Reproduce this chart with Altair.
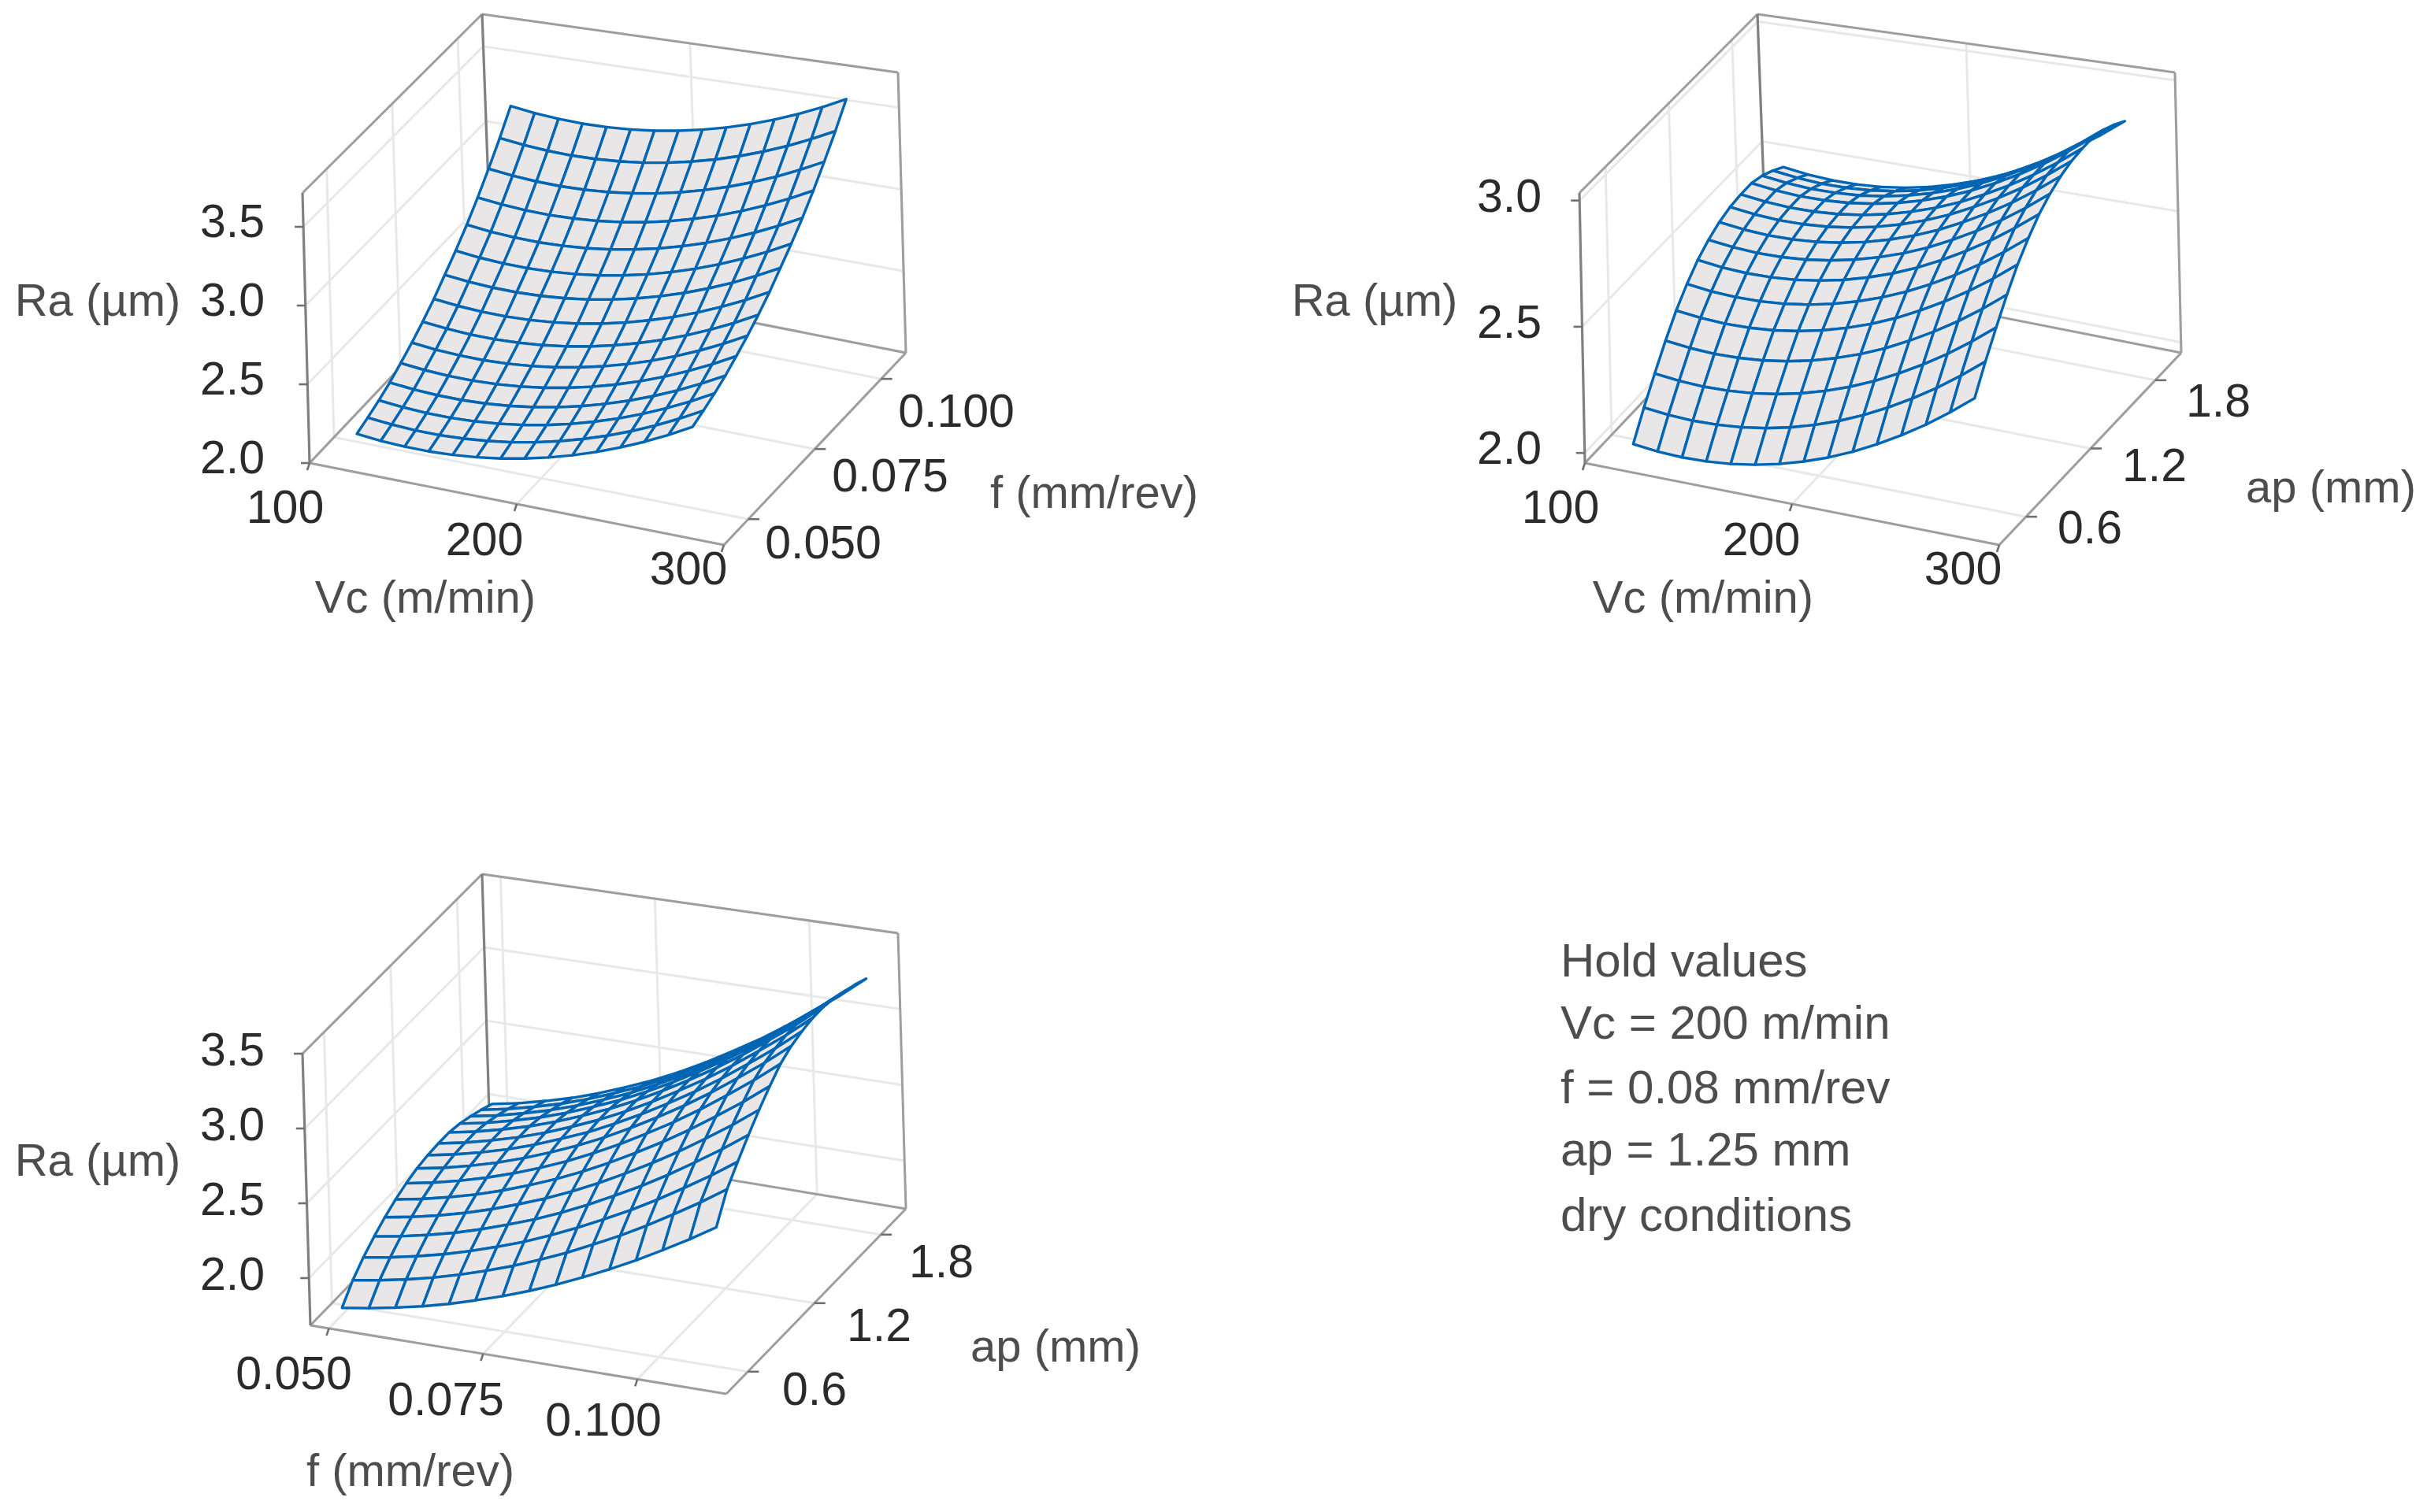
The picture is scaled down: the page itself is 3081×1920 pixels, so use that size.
import altair as alt
import pandas as pd
import numpy as np

# ---------- values ----------
# Surface 1: Ra (um) over Vc (columns) and f (rows, near to far)
VC_NODES_1 = [111, 122.6, 134.1, 145.7, 157.3, 168.9, 180.4, 192, 203.6, 215.1, 226.7, 238.3, 249.9, 261.4, 273]
F_NODES_1 = [0.0500, 0.0541, 0.0583, 0.0624, 0.0665, 0.0707, 0.0748, 0.0790, 0.0831, 0.0872, 0.0914, 0.0955, 0.0996, 0.1038, 0.1079]
RA_1 = [
[2.050,2.036,2.029,2.029,2.037,2.052,2.074,2.104,2.141,2.185,2.236,2.295,2.361,2.434,2.515],
[2.080,2.066,2.059,2.059,2.067,2.082,2.104,2.134,2.171,2.215,2.266,2.325,2.391,2.464,2.545],
[2.115,2.101,2.094,2.094,2.102,2.117,2.139,2.169,2.206,2.250,2.301,2.360,2.426,2.499,2.580],
[2.155,2.141,2.134,2.134,2.142,2.157,2.179,2.209,2.246,2.290,2.341,2.400,2.466,2.539,2.620],
[2.205,2.191,2.184,2.184,2.192,2.207,2.229,2.259,2.296,2.340,2.391,2.450,2.516,2.589,2.670],
[2.260,2.246,2.239,2.239,2.247,2.262,2.284,2.314,2.351,2.395,2.446,2.505,2.571,2.644,2.725],
[2.320,2.306,2.299,2.299,2.307,2.322,2.344,2.374,2.411,2.455,2.506,2.565,2.631,2.704,2.785],
[2.390,2.376,2.369,2.369,2.377,2.392,2.414,2.444,2.481,2.525,2.576,2.635,2.701,2.774,2.855],
[2.470,2.456,2.449,2.449,2.457,2.472,2.494,2.524,2.561,2.605,2.656,2.715,2.781,2.854,2.935],
[2.550,2.536,2.529,2.529,2.537,2.552,2.574,2.604,2.641,2.685,2.736,2.795,2.861,2.934,3.015],
[2.640,2.626,2.619,2.619,2.627,2.642,2.664,2.694,2.731,2.775,2.826,2.885,2.951,3.024,3.105],
[2.740,2.726,2.719,2.719,2.727,2.742,2.764,2.794,2.831,2.875,2.926,2.985,3.051,3.124,3.205],
[2.850,2.836,2.829,2.829,2.837,2.852,2.874,2.904,2.941,2.985,3.036,3.095,3.161,3.234,3.315],
[2.970,2.956,2.949,2.949,2.957,2.972,2.994,3.024,3.061,3.105,3.156,3.215,3.281,3.354,3.435],
[3.100,3.086,3.079,3.079,3.087,3.102,3.124,3.154,3.191,3.235,3.286,3.345,3.411,3.484,3.565],
]
# Surface 2: Ra over Vc (columns) and ap (rows)
VC_NODES_2 = [110.4, 122.2, 134, 145.7, 157.5, 169.3, 181, 192.8, 204.6, 216.4, 228.1, 239.9, 251.7, 263.4, 275.2]
AP_NODES_2 = [0.600, 0.700, 0.800, 0.900, 0.999, 1.099, 1.199, 1.299, 1.399, 1.499, 1.599, 1.698, 1.797, 1.897, 1.994]
RA_2 = [
[1.940,1.930,1.926,1.929,1.938,1.954,1.976,2.005,2.040,2.082,2.131,2.186,2.247,2.315,2.390],
[2.040,2.030,2.026,2.029,2.038,2.054,2.076,2.105,2.140,2.182,2.231,2.286,2.347,2.415,2.490],
[2.130,2.120,2.116,2.119,2.128,2.144,2.166,2.195,2.230,2.272,2.321,2.376,2.437,2.505,2.580],
[2.215,2.205,2.201,2.204,2.213,2.229,2.251,2.280,2.315,2.357,2.406,2.461,2.522,2.590,2.665],
[2.290,2.280,2.276,2.279,2.288,2.304,2.326,2.355,2.390,2.432,2.481,2.536,2.597,2.665,2.740],
[2.350,2.340,2.336,2.339,2.348,2.364,2.386,2.415,2.450,2.492,2.541,2.596,2.657,2.725,2.800],
[2.400,2.390,2.386,2.389,2.398,2.414,2.436,2.465,2.500,2.542,2.591,2.646,2.707,2.775,2.850],
[2.435,2.425,2.421,2.424,2.433,2.449,2.471,2.500,2.535,2.577,2.626,2.681,2.742,2.810,2.885],
[2.460,2.450,2.446,2.449,2.458,2.474,2.496,2.525,2.560,2.602,2.651,2.706,2.767,2.835,2.910],
[2.475,2.465,2.461,2.464,2.473,2.489,2.511,2.540,2.575,2.617,2.666,2.721,2.782,2.850,2.925],
[2.480,2.470,2.466,2.469,2.478,2.494,2.516,2.545,2.580,2.622,2.671,2.726,2.787,2.855,2.930],
[2.480,2.470,2.466,2.469,2.478,2.494,2.516,2.545,2.580,2.622,2.671,2.726,2.787,2.855,2.930],
[2.465,2.455,2.451,2.454,2.463,2.479,2.501,2.530,2.565,2.607,2.656,2.711,2.772,2.840,2.915],
[2.440,2.430,2.426,2.429,2.438,2.454,2.476,2.505,2.540,2.582,2.631,2.686,2.747,2.815,2.890],
[2.410,2.400,2.396,2.399,2.408,2.424,2.446,2.475,2.510,2.552,2.601,2.656,2.717,2.785,2.860],
]
# Surface 3: Ra over f (columns) and ap (rows)
F_NODES_3 = [0.04835, 0.0527, 0.0570, 0.0614, 0.0657, 0.0700, 0.0744, 0.0787, 0.0830, 0.0873, 0.0917, 0.0960, 0.1003, 0.1047, 0.1090]
AP_NODES_3 = [0.616, 0.713, 0.809, 0.906, 1.002, 1.099, 1.195, 1.292, 1.388, 1.485, 1.581, 1.678, 1.775, 1.871, 1.968]
RA_3 = [
[1.650,1.677,1.710,1.749,1.794,1.847,1.905,1.969,2.040,2.118,2.202,2.291,2.388,2.491,2.600],
[1.760,1.789,1.824,1.866,1.915,1.971,2.033,2.103,2.179,2.263,2.353,2.449,2.553,2.663,2.780],
[1.840,1.869,1.906,1.949,2.000,2.057,2.121,2.193,2.272,2.358,2.450,2.549,2.656,2.769,2.890],
[1.905,1.936,1.974,2.018,2.071,2.131,2.197,2.271,2.353,2.442,2.538,2.641,2.752,2.870,2.995],
[1.960,1.992,2.031,2.078,2.132,2.194,2.263,2.340,2.424,2.517,2.617,2.723,2.838,2.960,3.090],
[2.005,2.038,2.079,2.127,2.183,2.247,2.319,2.398,2.486,2.582,2.685,2.795,2.914,3.040,3.175],
[2.040,2.074,2.116,2.166,2.224,2.290,2.364,2.447,2.537,2.637,2.743,2.857,2.980,3.111,3.250],
[2.065,2.099,2.142,2.193,2.252,2.320,2.395,2.478,2.571,2.671,2.780,2.895,3.021,3.154,3.295],
[2.080,2.115,2.158,2.209,2.268,2.337,2.412,2.497,2.590,2.691,2.800,2.917,3.043,3.177,3.320],
[2.085,2.120,2.164,2.215,2.275,2.344,2.420,2.505,2.599,2.701,2.811,2.929,3.056,3.191,3.335],
[2.085,2.120,2.164,2.215,2.275,2.344,2.420,2.505,2.599,2.701,2.811,2.929,3.056,3.191,3.335],
[2.070,2.105,2.149,2.200,2.260,2.329,2.405,2.490,2.584,2.686,2.796,2.914,3.041,3.176,3.320],
[2.045,2.080,2.124,2.175,2.235,2.304,2.380,2.465,2.559,2.661,2.771,2.889,3.016,3.151,3.295],
[2.015,2.050,2.094,2.145,2.205,2.274,2.350,2.435,2.529,2.631,2.741,2.859,2.986,3.121,3.265],
[1.980,2.015,2.059,2.110,2.170,2.239,2.315,2.400,2.494,2.596,2.706,2.824,2.951,3.086,3.230],
]

VC_TICKS = [100, 200, 300]
F_TICKS = [0.050, 0.075, 0.100]
AP_TICKS = [0.6, 1.2, 1.8]
RA_TICKS_1 = [2.0, 2.5, 3.0, 3.5]
RA_TICKS_2 = [2.0, 2.5, 3.0]
RA_TICKS_3 = [2.0, 2.5, 3.0, 3.5]
HOLD_LINES = ["Hold values", "Vc = 200 m/min", "f = 0.08 mm/rev", "ap = 1.25 mm", "dry conditions"]

# ---------- view geometry of each panel (box corners on the page) ----------
PANELS = [
    dict(A=(393, 588), B=(919, 692), C=(1150, 448), At=(384, 245), Dt=(612, 18), Ct=(1140, 92), K=200.0,
         xdom=(100, 300), ydom=(0.0408, 0.1093), zdom=(2.0, 3.715),
         xnodes=VC_NODES_1, ynodes=F_NODES_1, ra=RA_1,
         xticks=VC_TICKS, yticks=F_TICKS, zticks=RA_TICKS_1, xfmt="{:.0f}", yfmt="{:.3f}",
         zlab_x=336, zlab_dy=-5,
         xlab=[(362, 646), (615, 687), (874, 724)], ylab=[(1045, 691), (1130, 606), (1214, 524)],
         titles=[("Vc (m/min)", 540, 761), ("f (mm/rev)", 1389, 628), ("Ra (µm)", 124, 384)]),
    dict(A=(2012, 588), B=(2538, 692), C=(2769, 448), At=(2005, 245), Dt=(2231, 18), Ct=(2761, 92), K=320.0,
         xdom=(100, 300), ydom=(0.352, 2.041), zdom=(1.96, 3.03),
         xnodes=VC_NODES_2, ynodes=AP_NODES_2, ra=RA_2,
         xticks=VC_TICKS, yticks=AP_TICKS, zticks=RA_TICKS_2, xfmt="{:.0f}", yfmt="{:.1f}",
         zlab_x=1957, zlab_dy=-4,
         xlab=[(1981, 646), (2236, 687), (2492, 724)], ylab=[(2653, 672), (2735, 593), (2816, 511)],
         titles=[("Vc (m/min)", 2162, 761), ("ap (mm)", 2959, 621), ("Ra (µm)", 1745, 384)]),
    dict(A=(394, 1683), B=(922, 1770), C=(1150, 1535), At=(384, 1338), Dt=(612, 1110), Ct=(1140, 1185), K=190.0,
         xdom=(0.047, 0.1144), ydom=(0.4055, 2.026), zdom=(1.684, 3.5),
         xnodes=F_NODES_3, ynodes=AP_NODES_3, ra=RA_3,
         xticks=F_TICKS, yticks=AP_TICKS, zticks=RA_TICKS_3, xfmt="{:.3f}", yfmt="{:.1f}",
         zlab_x=336, zlab_dy=-3,
         xlab=[(373, 1746), (566, 1779), (766, 1805)], ylab=[(1034, 1766), (1116, 1685), (1195, 1604)],
         titles=[("f (mm/rev)", 521, 1870), ("ap (mm)", 1340, 1712), ("Ra (µm)", 124, 1476)]),
]
HOLD_X = 1981
HOLD_Y = [1222, 1301, 1383, 1462, 1545]


def norm(val, dom):
    return (val - dom[0]) / (dom[1] - dom[0])


def box_pt(p, u, v, w):
    A, B, C, At, Dt, Ct = [np.array(p[k], float) for k in ("A", "B", "C", "At", "Dt", "Ct")]
    bottom = A + u * (B - A) + v * (C - B)
    top = At + u * (Ct - Dt) + v * (Dt - At)
    return bottom * (1 - w) + top * w


def surf_pt(p, u, v, z):
    A, B, C = [np.array(p[k], float) for k in ("A", "B", "C")]
    pt = A + u * (B - A) + v * (C - B)
    pt[1] -= p["K"] * (z - p["zdom"][0])
    return pt


grid_rows, box_rows, dark_rows, tick_rows, surf_rows, tick_text, title_text = [], [], [], [], [], [], []
lid = 0


def add_line(rows, a, b):
    global lid
    lid += 1
    rows.append(dict(id=lid, k=0, x=float(a[0]), y=float(a[1])))
    rows.append(dict(id=lid, k=1, x=float(b[0]), y=float(b[1])))


for pi, p in enumerate(PANELS):
    us = [norm(t, p["xdom"]) for t in p["xticks"]]
    vs = [norm(t, p["ydom"]) for t in p["yticks"]]
    ws = [norm(t, p["zdom"]) for t in p["zticks"]]
    bp = lambda u, v, w: box_pt(p, u, v, w)
    for u in us:
        add_line(grid_rows, bp(u, 0, 0), bp(u, 1, 0))
        add_line(grid_rows, bp(u, 1, 0), bp(u, 1, 1))
        add_line(tick_rows, bp(u, 0, 0), bp(u, 0, 0) + np.array([-3, 9]))
    for v in vs:
        add_line(grid_rows, bp(0, v, 0), bp(1, v, 0))
        add_line(grid_rows, bp(0, v, 0), bp(0, v, 1))
        add_line(tick_rows, bp(1, v, 0), bp(1, v, 0) + np.array([14, 0]))
    for w in ws:
        add_line(grid_rows, bp(0, 0, w), bp(0, 1, w))
        add_line(grid_rows, bp(0, 1, w), bp(1, 1, w))
        add_line(tick_rows, bp(0, 0, w), bp(0, 0, w) + np.array([-11, 0]))
    # box edges
    for a, b in [((0, 0, 0), (1, 0, 0)), ((1, 0, 0), (1, 1, 0)), ((0, 0, 0), (0, 1, 0)), ((0, 1, 0), (1, 1, 0)),
                 ((0, 0, 1), (0, 1, 1)), ((0, 1, 1), (1, 1, 1)), ((1, 1, 1), (1, 1, 0))]:
        add_line(box_rows, bp(*a), bp(*b))
    for a, b in [((0, 0, 0), (0, 0, 1)), ((0, 1, 0), (0, 1, 1))]:
        add_line(dark_rows, bp(*a), bp(*b))
    # surface cells, far rows first
    xn, yn, ra = p["xnodes"], p["ynodes"], p["ra"]
    un = [norm(t, p["xdom"]) for t in xn]
    vn = [norm(t, p["ydom"]) for t in yn]
    for j in range(len(yn) - 2, -1, -1):
        for i in range(len(xn) - 1):
            corners = [(i, j), (i + 1, j), (i + 1, j + 1), (i, j + 1)]
            for k, (ci, cj) in enumerate(corners):
                pt = surf_pt(p, un[ci], vn[cj], ra[cj][ci])
                surf_rows.append(dict(cell=f"{pi}-{j:02d}-{i:02d}", k=k, x=float(pt[0]), y=float(pt[1])))
    # labels
    for t, w in zip(p["zticks"], ws):
        pos = bp(0, 0, w)
        tick_text.append(dict(text=f"{t:.1f}", x=p["zlab_x"], y=float(pos[1]) + p["zlab_dy"], align="right"))
    for t, (lx, ly) in zip(p["xticks"], p["xlab"]):
        tick_text.append(dict(text=p["xfmt"].format(t), x=lx, y=ly, align="center"))
    for t, (lx, ly) in zip(p["yticks"], p["ylab"]):
        tick_text.append(dict(text=p["yfmt"].format(t), x=lx, y=ly, align="center"))
    for txt, lx, ly in p["titles"]:
        title_text.append(dict(text=txt, x=lx, y=ly))

hold_df = pd.DataFrame(dict(text=HOLD_LINES, x=[HOLD_X] * 5, y=HOLD_Y))

X = alt.X("x:Q", scale=alt.Scale(domain=[8, 3068], nice=False, zero=False), axis=None)
Y = alt.Y("y:Q", scale=alt.Scale(domain=[1908, 8], nice=False, zero=False), axis=None)
FONT = "Liberation Sans"


def lines(rows, color, width):
    return alt.Chart(pd.DataFrame(rows)).mark_line(color=color, strokeWidth=width, interpolate="linear").encode(
        x=X, y=Y, detail="id:N", order="k:Q")


surface = alt.Chart(pd.DataFrame(surf_rows)).mark_line(
    interpolate="linear-closed", stroke="#0065b3", fill="#e8e6e6", strokeWidth=3.4, strokeJoin="round"
).encode(x=X, y=Y, detail="cell:N", order="k:Q")

ticktxt_r = alt.Chart(pd.DataFrame([t for t in tick_text if t["align"] == "right"])).mark_text(
    font=FONT, fontSize=59, align="right", baseline="middle", color="#2b2b2b").encode(x=X, y=Y, text="text:N")
ticktxt_c = alt.Chart(pd.DataFrame([t for t in tick_text if t["align"] == "center"])).mark_text(
    font=FONT, fontSize=59, align="center", baseline="middle", color="#2b2b2b").encode(x=X, y=Y, text="text:N")
titles = alt.Chart(pd.DataFrame(title_text)).mark_text(
    font=FONT, fontSize=58, align="center", baseline="middle", color="#4d4d4d").encode(x=X, y=Y, text="text:N")
hold = alt.Chart(hold_df).mark_text(
    font=FONT, fontSize=60, align="left", baseline="middle", color="#4d4d4d").encode(x=X, y=Y, text="text:N")

chart = alt.layer(
    lines(grid_rows, "#e8e8e8", 3.0),
    lines(box_rows, "#9e9e9e", 3.0),
    lines(dark_rows, "#808080", 3.2),
    lines(tick_rows, "#707070", 2.6),
    surface,
    ticktxt_r, ticktxt_c, titles, hold,
).properties(
    width=3060, height=1900, padding=0, background="white",
    autosize=alt.AutoSizeParams(type="none"),
).configure_view(stroke=None)

chart.save("out.html", embed_options={"renderer": "svg", "actions": False})
